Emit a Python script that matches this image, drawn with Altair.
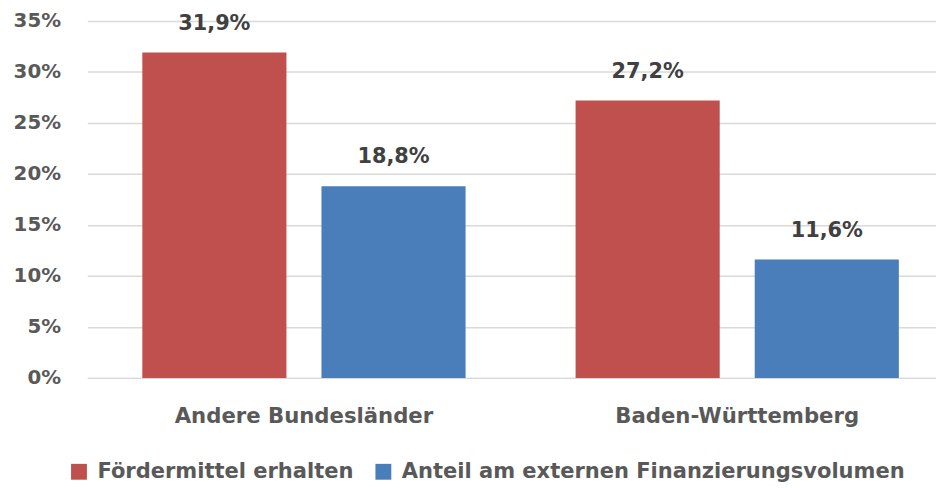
import altair as alt
import pandas as pd

regions = ["Andere Bundesländer", "Baden-Württemberg"]
series = ["Fördermittel erhalten", "Anteil am externen Finanzierungsvolumen"]
foerder = [31.9, 27.2]
anteil = [18.8, 11.6]
colors = ["#C0504D", "#4A7EBB"]
y_ticks = [0, 5, 10, 15, 20, 25, 30, 35]

rows = []
for i, r in enumerate(regions):
    for s, vals in zip(series, [foerder, anteil]):
        v = vals[i]
        rows.append({"region": r, "series": s, "value": v,
                     "label": f"{v:.1f}".replace(".", ",") + "%"})
df = pd.DataFrame(rows)

FONT = "DejaVu Sans"

x = alt.X("region:N", sort=regions, title=None,
          scale=alt.Scale(paddingInner=0, paddingOuter=0),
          axis=alt.Axis(labelAngle=0, labelFontSize=21.4, labelFont=FONT, labelFontWeight="bold",
                        labelColor="#595959", ticks=False, domain=True, domainColor="#d9d9d9",
                        domainWidth=1.5, labelPadding=39, labelBaseline="middle", grid=False,
                        labelLimit=600))
xo = alt.XOffset("series:N", sort=series,
                 scale=alt.Scale(paddingInner=0.1955, paddingOuter=0.307))
y = alt.Y("value:Q", title=None,
          scale=alt.Scale(domain=[0, 35], nice=False),
          axis=alt.Axis(values=y_ticks, labelExpr="datum.value + '%'", labelFontSize=20,
                        labelFont=FONT, labelFontWeight="bold", labelColor="#595959",
                        ticks=False, domain=False, gridColor="#d9d9d9", gridWidth=1.5,
                        labelPadding=27))

bars = alt.Chart(df).mark_bar().encode(
    x=x, xOffset=xo, y=y,
    color=alt.Color("series:N", sort=series,
                    scale=alt.Scale(domain=series, range=colors),
                    legend=alt.Legend(title=None, orient="none", legendX=-19, legendY=444,
                                      direction="horizontal", symbolType="square",
                                      symbolSize=256, symbolStrokeWidth=0,
                                      labelFontSize=21.2, labelFont=FONT, labelFontWeight="bold",
                                      labelColor="#595959", columnPadding=19, labelOffset=8,
                                      labelLimit=700)),
)

texts = alt.Chart(df).mark_text(font=FONT, fontWeight="bold", fontSize=21, color="#404040",
                                baseline="alphabetic", dy=-23).encode(
    x=alt.X("region:N", sort=regions), xOffset=alt.XOffset("series:N", sort=series),
    y="value:Q", text="label:N")

chart = (bars + texts).properties(
    width=874, height=360,
    autosize=alt.AutoSizeParams(type="none"),
    padding={"left": 80, "top": 11, "right": -18, "bottom": 109},
).configure_view(stroke=None)

chart.save("out.html", embed_options={"renderer": "svg", "actions": False})
